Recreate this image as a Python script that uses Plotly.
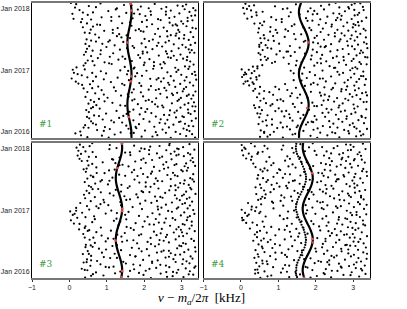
import pandas as pd
import plotly.graph_objects as go
from plotly.subplots import make_subplots

# time is stored as days since 2016-01-01, frequency offset in kHz
curve_t = [-35, 0, 31, 60, 91, 121, 152, 182, 213, 244, 274, 305, 335, 366,
           397, 425, 456, 486, 517, 547, 578, 609, 639, 670, 700, 731, 766]
curve1_x = [1.658, 1.657, 1.640, 1.616, 1.587, 1.563, 1.551, 1.553, 1.569, 1.596, 1.624, 1.647, 1.659, 1.656,
            1.639, 1.616, 1.587, 1.563, 1.551, 1.553, 1.569, 1.596, 1.624, 1.647, 1.659, 1.656, 1.636]
curve2_x = [1.554, 1.558, 1.597, 1.655, 1.723, 1.778, 1.808, 1.803, 1.764, 1.702, 1.636, 1.580, 1.552, 1.558,
            1.599, 1.655, 1.723, 1.778, 1.808, 1.803, 1.764, 1.702, 1.636, 1.580, 1.552, 1.558, 1.606]
curve3_x = [1.386, 1.409, 1.405, 1.380, 1.340, 1.297, 1.260, 1.241, 1.245, 1.271, 1.311, 1.355, 1.391, 1.409,
            1.404, 1.380, 1.340, 1.297, 1.260, 1.241, 1.245, 1.271, 1.311, 1.355, 1.391, 1.409, 1.402]
curve4_x = [1.689, 1.652, 1.659, 1.697, 1.761, 1.830, 1.888, 1.918, 1.912, 1.870, 1.808, 1.737, 1.681, 1.652,
            1.660, 1.697, 1.761, 1.830, 1.888, 1.918, 1.912, 1.870, 1.808, 1.737, 1.681, 1.652, 1.663]

# red marks on the curves
red1_t = [88, 300, 330, 531, 720, 760]
red1_x = [1.59, 1.644, 1.658, 1.552, 1.658, 1.638]
red2_t = [142, 531]
red2_x = [1.77, 1.806]
red3_t = [-30, 5, 186, 360, 375, 615, 760]
red3_x = [1.39, 1.409, 1.241, 1.408, 1.409, 1.275, 1.403]
red4_t = [-35, 175, 195, 586]
red4_x = [1.689, 1.915, 1.915, 1.905]

p1_t = [-35, -31, -28, -24, -22, -19, -15, -12, -9, -7, -5, -33,
        -3, 0, 2, 5, 8, 11, 14, 17, 20, 22, 25, 27,
        29, 31, 34, 37, 40, 43, 46, 48, 51, 54, 57, 59,
        61, 63, 66, 69, 72, 74, 77, 80, 83, 86, 89, 91,
        93, 95, 98, 101, 104, 106, 109, 112, 115, 118, 120, 123,
        125, 128, 130, 133, 136, 139, 141, 144, 147, 150, 152, 155,
        157, 159, 162, 165, 168, 170, 173, 176, 179, 182, 184, 187,
        189, 192, 194, 197, 200, 203, 205, 208, 211, 214, 216, 219,
        221, 223, 226, 229, 232, 235, 237, 240, 243, 246, 248, 251,
        253, 255, 258, 261, 264, 267, 269, 272, 275, 278, 280, 283,
        285, 287, 290, 293, 296, 299, 301, 304, 307, 310, 312, 315,
        317, 319, 322, 325, 328, 331, 333, 336, 339, 342, 344, 347,
        349, 351, 354, 357, 360, 363, 365, 368, 371, 374, 376, 379,
        381, 383, 386, 389, 392, 395, 397, 400, 403, 406, 408, 411,
        413, 415, 418, 421, 424, 427, 429, 432, 435, 438, 440, 443,
        445, 447, 450, 453, 456, 459, 461, 464, 467, 470, 472, 475,
        477, 479, 482, 485, 488, 491, 493, 496, 499, 502, 504, 507,
        509, 511, 514, 517, 520, 523, 525, 528, 531, 534, 536, 539,
        541, 543, 546, 549, 552, 555, 557, 560, 563, 566, 568, 571,
        573, 575, 578, 581, 584, 587, 589, 592, 595, 598, 600, 603,
        605, 607, 610, 613, 616, 619, 621, 624, 627, 630, 632, 635,
        637, 639, 642, 645, 648, 651, 653, 656, 659, 662, 664, 667,
        669, 671, 674, 677, 680, 683, 685, 688, 691, 694, 696, 699,
        701, 703, 706, 709, 712, 715, 717, 720, 723, 726, 728, 731,
        733, 735, 738, 741, 744, 747, 750, 753, 756, 759, 762, 765,
        -34, -27, -20, -13, -6, -1, 6, 12, 19, 26, 30, 36, 44, 50, 56,
        62, 68, 75, 81, 88, 94, 100, 107, 113, 119, 126, 132, 140, 146, 151,
        158, 164, 171, 178, 185, 190, 196, 202, 209, 217, 222, 228, 234, 241, 249,
        254, 260, 266, 273, 279, 286, 292, 298, 305, 311, 318, 324, 330, 337, 343,
        350, 356, 362, 369, 375, 382, 388, 394, 401, 407, 414, 420, 426, 433, 439,
        446, 452, 458, 465, 471, 478, 484, 490, 497, 503, 510, 516, 522, 529, 535,
        542, 548, 554, 561, 567, 574, 580, 586, 593, 599, 606, 612, 618, 625, 631,
        638, 644, 650, 657, 663, 670, 676, 682, 689, 695, 702, 708, 714, 721, 727,
        734, 740, 746, 752, 758]
p1_x = [2.71, 0.48, 1.93, 3.12, 0.87, 2.35, 1.21, 2.96, 0.16, 1.64, 2.58, 3.36,
        1.37, 2.84, 0.29, 3.21, 2.02, 0.74, 2.49, 1.08, 3.05, 1.79, 0.51, 2.66,
        0.95, 2.27, 3.31, 1.52, 0.42, 2.78, 1.86, 3.09, 0.63, 2.41, 1.19, 2.93,
        2.14, 0.58, 3.27, 1.71, 2.62, 0.89, 1.98, 3.38, 1.33, 2.85, 0.47, 2.31,
        3.02, 1.44, 0.66, 2.53, 1.88, 3.24, 0.98, 2.19, 2.81, 0.52, 1.61, 3.35,
        1.26, 2.69, 0.45, 3.17, 2.08, 0.81, 1.92, 2.97, 0.63, 2.36, 3.29, 1.49,
        2.48, 0.72, 3.08, 1.83, 0.51, 2.74, 1.15, 3.33, 2.21, 0.94, 2.89, 1.68,
        0.57, 2.93, 1.74, 3.26, 2.32, 1.02, 2.61, 0.43, 1.97, 3.14, 1.38, 2.77,
        3.19, 1.56, 2.43, 0.69, 2.88, 1.91, 0.48, 3.37, 1.24, 2.59, 0.86, 2.12,
        1.72, 3.06, 0.38, 2.54, 1.19, 2.83, 0.77, 2.18, 3.31, 1.47, 2.67, 0.55,
        2.96, 0.24, 1.87, 3.22, 1.11, 2.45, 0.63, 2.79, 1.59, 3.39, 0.92, 2.16,
        0.06, 2.38, 1.29, 3.13, 0.71, 2.71, 1.94, 0.33, 2.99, 1.54, 3.28, 0.98,
        1.81, 0.12, 2.62, 3.35, 0.84, 2.06, 1.36, 2.91, 0.41, 3.18, 1.72, 2.47,
        2.83, 0.19, 1.48, 3.09, 2.26, 0.67, 1.99, 3.32, 1.13, 2.55, 0.43, 2.01,
        0.94, 2.52, 3.23, 1.67, 0.49, 2.87, 1.31, 2.14, 3.04, 0.76, 1.89, 2.64,
        3.15, 1.42, 0.58, 2.39, 1.84, 2.97, 0.83, 2.61, 1.17, 3.34, 2.08, 0.44,
        1.96, 2.73, 0.62, 3.27, 1.35, 2.22, 0.47, 2.92, 1.73, 3.11, 0.99, 2.48,
        0.53, 2.34, 1.21, 3.02, 2.79, 0.88, 1.93, 3.36, 2.57, 1.44, 0.71, 2.13,
        2.66, 1.08, 3.19, 0.46, 2.01, 2.93, 1.62, 0.79, 3.31, 2.42, 1.27, 2.84,
        1.53, 3.07, 0.69, 2.29, 2.86, 1.16, 0.41, 3.24, 1.98, 2.61, 0.93, 1.77,
        2.91, 0.57, 1.86, 3.38, 1.29, 2.52, 0.36, 2.07, 3.13, 1.66, 2.76, 0.82,
        0.74, 2.21, 3.04, 1.41, 2.68, 0.31, 1.94, 2.99, 1.12, 3.29, 2.44, 0.58,
        2.37, 0.11, 1.69, 3.16, 0.86, 2.81, 1.33, 2.03, 3.36, 0.49, 2.58, 1.88,
        0.08, 2.94, 1.52, 0.63, 3.21, 2.17, 1.04, 2.71, 0.27, 1.83, 3.08, 2.46,
        1.27, 3.31, 0.15, 2.59, 1.91, 0.52, 2.89, 1.46, 3.12, 2.28, 0.83, 0.04,
        1.05, 2.22, 0.31, 3.28, 1.72, 2.31, 0.92, 3.14, 1.58, 0.38, 1.77, 3.19, 0.71, 2.56, 1.41,
        2.97, 1.12, 2.44, 0.53, 3.06, 0.79, 2.67, 1.53, 3.18, 2.03, 2.87, 1.71, 0.58, 2.51, 3.37,
        1.36, 2.29, 3.18, 0.66, 2.04, 2.12, 0.79, 2.98, 1.58, 3.31, 0.92, 2.74, 1.67, 3.03, 2.31,
        2.39, 0.61, 3.12, 1.92, 0.34, 1.41, 2.64, 0.17, 3.08, 2.33, 2.52, 0.48, 1.76, 3.37, 0.22,
        0.61, 2.86, 1.57, 0.09, 2.24, 1.74, 3.21, 0.38, 2.43, 1.06, 2.26, 0.62, 3.14, 1.49, 2.71,
        1.08, 2.79, 0.39, 1.96, 3.22, 2.58, 0.84, 3.19, 1.54, 2.04, 1.69, 3.24, 0.43, 2.38, 1.04,
        0.58, 2.23, 3.06, 1.39, 2.62, 2.71, 1.33, 0.54, 2.94, 1.91, 1.16, 2.37, 3.29, 0.63, 2.88,
        2.84, 0.47, 1.62, 3.16, 2.07, 0.34, 2.67, 1.12, 3.26, 2.18, 1.73, 0.36, 2.58, 3.37, 1.24,
        2.12, 0.71, 3.03, 1.66, 0.18]

p2_t = [-34, -32, -29, -26, -23, -20, -17, -14, -11, -9, -6, -4,
        -2, 1, 3, 6, 9, 12, 15, 18, 21, 23, 26, 28,
        30, 32, 35, 38, 41, 44, 47, 49, 52, 55, 58, 60,
        62, 64, 67, 70, 73, 75, 78, 81, 84, 87, 90, 92,
        94, 96, 99, 102, 105, 107, 110, 113, 116, 119, 121, 124,
        126, 129, 131, 134, 137, 140, 142, 145, 148, 151, 153, 156,
        158, 160, 163, 166, 169, 171, 174, 177, 180, 183, 185, 188,
        190, 193, 195, 198, 201, 204, 206, 209, 212, 215, 217, 220,
        222, 224, 227, 230, 233, 236, 238, 241, 244, 247, 249, 252,
        254, 256, 259, 262, 265, 268, 270, 273, 276, 279, 281, 284,
        286, 288, 291, 294, 297, 300, 302, 305, 308, 311, 313, 316,
        318, 320, 323, 326, 329, 332, 334, 337, 340, 343, 345, 348,
        350, 352, 355, 358, 361, 364, 366, 369, 372, 375, 377, 380,
        382, 384, 387, 390, 393, 396, 398, 401, 404, 407, 409, 412,
        414, 416, 419, 422, 425, 428, 430, 433, 436, 439, 441, 444,
        446, 448, 451, 454, 457, 460, 462, 465, 468, 471, 473, 476,
        478, 480, 483, 486, 489, 492, 494, 497, 500, 503, 505, 508,
        510, 512, 515, 518, 521, 524, 526, 529, 532, 535, 537, 540,
        542, 544, 547, 550, 553, 556, 558, 561, 564, 567, 569, 572,
        574, 576, 579, 582, 585, 588, 590, 593, 596, 599, 601, 604,
        606, 608, 611, 614, 617, 620, 622, 625, 628, 631, 633, 636,
        638, 640, 643, 646, 649, 652, 654, 657, 660, 663, 665, 668,
        670, 672, 675, 678, 681, 684, 686, 689, 692, 695, 697, 700,
        702, 704, 707, 710, 713, 716, 718, 721, 724, 727, 729, 732,
        734, 736, 739, 742, 745, 748, 751, 754, 757, 760, 763, 766,
        -35, -28, -21, -15, -7, 0, 5, 13, 20, 27, 29, 37, 43, 51, 57,
        61, 69, 76, 83, 89, 93, 101, 108, 115, 122, 125, 133, 139, 147, 154,
        157, 165, 172, 179, 186, 189, 197, 203, 211, 218, 221, 229, 235, 243, 250,
        253, 261, 267, 275, 282, 285, 293, 299, 307, 314, 317, 325, 331, 339, 346,
        349, 357, 363, 371, 378, 381, 389, 395, 403, 410, 413, 421, 427, 435, 442,
        445, 453, 459, 467, 474, 477, 485, 491, 499, 506, 509, 517, 523, 531, 538,
        541, 549, 555, 563, 570, 573, 581, 587, 595, 602, 605, 613, 619, 627, 634,
        637, 645, 651, 659, 666, 669, 677, 683, 691, 698, 701, 709, 715, 723, 730,
        733, 741, 747, 755, 762]
p2_x = [1.12, 2.63, 0.51, 3.08, 1.86, 2.31, 0.78, 3.27, 1.45, 2.89, 0.62, 2.12,
        2.44, 0.88, 3.18, 1.67, 0.53, 2.76, 1.31, 3.37, 2.05, 0.97, 2.58, 1.49,
        3.03, 1.23, 2.19, 0.69, 2.91, 1.74, 0.47, 2.47, 3.29, 1.06, 1.93, 2.71,
        0.58, 2.36, 1.38, 3.14, 2.02, 0.83, 2.82, 1.59, 3.33, 0.49, 2.25, 1.16,
        1.97, 3.22, 0.71, 2.54, 1.29, 2.95, 0.44, 2.18, 3.06, 1.53, 2.67, 0.92,
        2.78, 0.56, 1.82, 3.35, 2.29, 1.01, 0.38, 2.61, 1.44, 3.12, 2.03, 0.79,
        0.35, 2.16, 3.01, 1.39, 2.72, 0.67, 1.91, 3.28, 2.49, 1.13, 0.52, 2.87,
        2.33, 1.06, 3.19, 0.61, 2.57, 1.78, 0.43, 2.98, 1.32, 2.14, 3.37, 0.86,
        1.58, 2.91, 0.49, 3.24, 2.11, 0.76, 1.87, 2.68, 0.33, 3.05, 1.24, 2.42,
        2.69, 0.38, 3.15, 1.47, 2.23, 0.92, 2.84, 1.71, 0.22, 3.31, 2.05, 1.18,
        0.07, 2.52, 1.94, 0.31, 3.09, 2.27, 0.18, 1.62, 2.86, 0.42, 3.34, 2.11,
        0.26, 1.76, 2.94, 0.03, 2.41, 3.21, 0.49, 1.98, 2.63, 0.14, 3.03, 1.41,
        2.73, 0.11, 1.84, 3.27, 0.36, 2.18, 2.92, 0.21, 1.56, 3.11, 0.44, 2.49,
        1.69, 3.06, 0.32, 2.37, 1.96, 0.57, 2.81, 3.36, 1.28, 2.14, 0.83, 2.62,
        3.17, 0.91, 2.28, 1.49, 2.75, 0.53, 1.87, 3.01, 0.72, 2.46, 1.14, 3.32,
        0.64, 2.56, 1.33, 3.09, 2.17, 0.95, 2.88, 1.71, 0.47, 3.26, 2.03, 1.22,
        2.39, 1.04, 3.21, 0.58, 1.92, 2.72, 0.81, 3.38, 1.57, 2.24, 0.49, 2.97,
        1.31, 2.86, 0.66, 3.13, 2.41, 1.02, 2.06, 0.54, 3.29, 1.68, 2.63, 0.88,
        3.04, 0.73, 2.22, 1.46, 2.93, 0.52, 1.97, 3.34, 1.17, 2.51, 0.86, 2.77,
        0.61, 2.34, 1.61, 3.19, 2.69, 0.97, 0.46, 2.13, 3.07, 1.26, 2.87, 1.88,
        2.58, 1.19, 3.28, 0.48, 1.83, 2.99, 0.79, 2.42, 1.36, 3.15, 0.57, 2.08,
        1.43, 3.01, 0.36, 2.27, 2.84, 1.09, 0.62, 3.23, 1.91, 2.54, 0.94, 2.12,
        2.96, 0.17, 1.74, 3.35, 0.81, 2.31, 1.28, 2.69, 0.42, 3.12, 1.57, 2.04,
        0.09, 2.47, 3.16, 1.33, 0.58, 2.78, 1.96, 0.27, 3.03, 2.22, 1.12, 2.89,
        1.86, 0.06, 2.63, 3.26, 0.91, 2.14, 0.35, 2.96, 1.47, 0.12, 3.19, 2.53,
        2.04, 0.71, 3.21, 1.38, 2.52, 0.62, 2.87, 1.94, 3.09, 1.12, 2.38, 1.52, 0.83, 2.99, 1.79,
        1.89, 0.67, 2.61, 1.31, 3.23, 2.83, 1.67, 0.52, 2.34, 1.09, 1.21, 2.42, 3.03, 0.49, 1.96,
        2.63, 0.84, 1.62, 3.36, 2.21, 0.97, 2.79, 1.51, 2.36, 3.09, 2.24, 1.36, 3.34, 0.62, 2.81,
        1.02, 2.46, 0.51, 3.03, 1.87, 0.34, 2.77, 0.12, 1.41, 3.16, 2.19, 0.41, 3.27, 0.08, 1.64,
        0.29, 2.58, 1.33, 0.02, 2.98, 2.52, 0.44, 1.47, 3.21, 2.04, 1.62, 2.96, 0.68, 2.13, 3.38,
        2.74, 1.89, 0.52, 3.18, 1.44, 1.26, 2.58, 3.04, 0.71, 2.13, 2.27, 0.49, 3.36, 1.93, 2.84,
        1.72, 2.66, 0.63, 3.11, 2.03, 2.96, 1.42, 2.51, 0.78, 3.33, 0.93, 2.19, 1.67, 2.74, 3.06,
        2.43, 0.51, 3.13, 1.78, 2.67, 1.09, 2.58, 0.29, 3.04, 1.92, 2.63, 0.41, 1.79, 3.28, 0.16,
        1.24, 2.87, 0.22, 2.36, 3.04]

p3_t = [-36, -33, -30, -27, -25, -21, -18, -16, -13, -10, -8, -5,
        -3, -1, 2, 4, 7, 10, 13, 16, 19, 21, 24, 27,
        28, 31, 33, 36, 39, 42, 45, 47, 50, 53, 56, 59,
        60, 63, 65, 68, 71, 74, 76, 79, 82, 85, 88, 91,
        92, 95, 97, 100, 103, 106, 108, 111, 114, 117, 120, 122,
        124, 127, 129, 132, 135, 138, 140, 143, 146, 149, 152, 154,
        156, 159, 161, 164, 167, 170, 172, 175, 178, 181, 184, 186,
        188, 191, 193, 196, 199, 202, 204, 207, 210, 213, 216, 218,
        220, 223, 225, 228, 231, 234, 236, 239, 242, 245, 248, 250,
        252, 255, 257, 260, 263, 266, 268, 271, 274, 277, 280, 282,
        284, 287, 289, 292, 295, 298, 300, 303, 306, 309, 312, 314,
        316, 319, 321, 324, 327, 330, 332, 335, 338, 341, 344, 346,
        348, 351, 353, 356, 359, 362, 364, 367, 370, 373, 376, 378,
        380, 383, 385, 388, 391, 394, 396, 399, 402, 405, 408, 410,
        412, 415, 417, 420, 423, 426, 428, 431, 434, 437, 440, 442,
        444, 447, 449, 452, 455, 458, 460, 463, 466, 469, 472, 474,
        476, 479, 481, 484, 487, 490, 492, 495, 498, 501, 504, 506,
        508, 511, 513, 516, 519, 522, 524, 527, 530, 533, 536, 538,
        540, 543, 545, 548, 551, 554, 556, 559, 562, 565, 568, 570,
        572, 575, 577, 580, 583, 586, 588, 591, 594, 597, 600, 602,
        604, 607, 609, 612, 615, 618, 620, 623, 626, 629, 632, 634,
        636, 639, 641, 644, 647, 650, 652, 655, 658, 661, 664, 666,
        668, 671, 673, 676, 679, 682, 684, 687, 690, 693, 696, 698,
        700, 703, 705, 708, 711, 714, 716, 719, 722, 725, 728, 730,
        732, 735, 737, 740, 743, 746, 749, 752, 755, 758, 761, 764,
        -34, -29, -23, -14, -6, 0, 6, 12, 18, 25, 30, 38, 44, 51, 58,
        62, 69, 75, 83, 90, 93, 101, 107, 115, 121, 125, 133, 139, 147, 153,
        157, 165, 171, 179, 185, 189, 197, 203, 211, 217, 221, 229, 235, 243, 249,
        253, 261, 267, 275, 281, 285, 293, 299, 307, 313, 317, 325, 331, 339, 345,
        349, 357, 363, 371, 377, 381, 389, 395, 403, 409, 413, 421, 427, 435, 441,
        445, 453, 459, 467, 473, 477, 485, 491, 499, 505, 509, 517, 523, 531, 537,
        541, 549, 555, 563, 569, 573, 581, 587, 595, 601, 605, 613, 619, 627, 633,
        637, 645, 651, 659, 665, 669, 677, 683, 691, 697, 701, 709, 715, 723, 729,
        733, 741, 747, 753, 762]
p3_x = [2.18, 0.42, 3.05, 1.57, 2.76, 0.91, 1.98, 3.31, 0.63, 2.44, 1.22, 2.87,
        0.71, 2.59, 1.36, 3.22, 2.04, 0.48, 2.91, 1.73, 0.33, 3.11, 2.32, 1.06,
        2.67, 1.18, 3.37, 0.56, 1.89, 2.43, 0.83, 3.02, 1.51, 2.21, 0.38, 2.84,
        1.44, 3.13, 0.74, 2.36, 1.97, 0.47, 2.78, 3.29, 1.09, 2.57, 0.92, 1.76,
        3.24, 0.58, 2.13, 1.62, 2.96, 0.36, 1.21, 2.71, 0.87, 3.07, 2.46, 1.93,
        0.49, 2.52, 1.38, 3.18, 2.07, 0.79, 2.88, 1.67, 3.36, 0.62, 2.29, 1.15,
        2.94, 1.27, 0.44, 2.39, 3.11, 1.81, 0.68, 2.66, 2.09, 0.97, 3.33, 1.54,
        1.71, 0.54, 2.84, 3.26, 1.03, 2.17, 0.41, 2.58, 1.39, 3.04, 0.86, 2.33,
        2.61, 1.92, 0.37, 3.14, 1.48, 2.79, 0.72, 2.26, 3.35, 1.11, 0.53, 2.98,
        0.26, 2.47, 3.21, 1.64, 0.84, 2.92, 1.96, 0.43, 2.69, 1.31, 3.08, 2.14,
        3.03, 0.12, 1.77, 2.54, 0.61, 3.27, 2.01, 1.19, 0.04, 2.83, 1.52, 2.31,
        1.26, 2.76, 0.21, 3.16, 2.09, 0.66, 1.86, 2.98, 0.09, 2.41, 3.34, 0.97,
        2.22, 0.34, 3.07, 1.58, 0.02, 2.64, 1.12, 3.31, 0.53, 1.94, 2.87, 0.78,
        0.18, 2.91, 1.69, 2.36, 0.47, 3.22, 1.04, 2.58, 0.83, 1.89, 3.09, 2.19,
        2.74, 1.36, 3.28, 0.57, 2.03, 2.95, 0.91, 1.62, 3.14, 0.42, 2.49, 1.83,
        0.68, 2.29, 1.47, 3.01, 2.82, 0.39, 1.79, 3.37, 1.08, 2.56, 0.84, 2.14,
        3.12, 1.93, 0.46, 2.67, 1.24, 3.26, 0.77, 2.38, 1.56, 2.91, 0.58, 2.04,
        1.61, 0.52, 2.83, 3.19, 1.03, 2.27, 0.69, 2.96, 1.87, 0.41, 3.33, 2.48,
        2.36, 3.08, 0.87, 1.74, 2.71, 0.48, 3.23, 1.15, 2.09, 0.63, 2.89, 1.49,
        0.57, 2.62, 1.33, 3.31, 2.18, 0.94, 2.77, 1.67, 0.44, 3.03, 2.41, 1.06,
        2.99, 1.21, 0.38, 2.53, 1.91, 3.17, 0.72, 2.26, 1.58, 3.36, 0.51, 2.81,
        1.42, 2.86, 0.61, 3.12, 2.04, 0.89, 2.59, 1.76, 0.33, 3.24, 2.21, 1.17,
        2.73, 0.27, 1.98, 3.29, 1.34, 0.71, 2.48, 3.06, 0.22, 1.63, 2.92, 2.13,
        0.31, 2.34, 3.17, 1.49, 0.62, 2.81, 1.88, 0.24, 2.59, 3.34, 1.07, 2.01,
        2.88, 1.26, 0.19, 3.04, 2.16, 0.54, 1.73, 2.67, 0.28, 3.21, 1.41, 0.61,
        1.38, 2.61, 0.58, 3.19, 1.86, 2.77, 1.62, 0.41, 2.14, 3.34, 0.97, 2.58, 1.71, 3.21, 0.46,
        2.21, 0.58, 3.04, 1.27, 2.66, 1.77, 2.83, 0.52, 2.34, 3.37, 2.66, 0.98, 1.86, 0.43, 2.99,
        0.57, 2.18, 3.04, 1.41, 2.52, 2.41, 1.18, 0.64, 2.93, 1.86, 1.28, 2.44, 3.01, 0.49, 1.72,
        2.86, 0.41, 1.53, 3.27, 2.26, 0.27, 2.39, 1.36, 3.14, 0.68, 2.58, 0.43, 3.22, 1.49, 0.14,
        1.27, 2.74, 0.18, 2.37, 3.16, 2.46, 0.72, 1.38, 3.02, 0.29, 0.93, 2.34, 1.52, 2.87, 3.21,
        2.43, 1.18, 3.06, 0.53, 1.97, 1.38, 2.84, 0.62, 3.23, 2.17, 2.71, 1.39, 3.06, 2.04, 0.83,
        1.07, 3.29, 2.31, 0.64, 1.82, 2.82, 1.97, 0.73, 2.21, 3.14, 1.73, 0.46, 2.64, 3.08, 1.34,
        2.51, 1.23, 3.31, 0.48, 1.92, 1.14, 2.41, 0.52, 2.86, 3.23, 2.71, 1.62, 0.43, 2.13, 2.92,
        1.92, 0.37, 2.41, 1.08, 2.68]

p4_t = [-35, -32, -30, -27, -24, -21, -18, -15, -12, -10, -7, -4,
        -2, 0, 3, 6, 9, 11, 14, 17, 20, 23, 25, 28,
        30, 33, 35, 38, 41, 43, 46, 49, 52, 54, 57, 60,
        62, 65, 67, 70, 73, 75, 78, 81, 84, 86, 89, 92,
        94, 97, 99, 102, 105, 107, 110, 113, 116, 118, 121, 124,
        126, 129, 131, 134, 137, 139, 142, 145, 148, 150, 153, 156,
        158, 161, 163, 166, 169, 171, 174, 177, 180, 182, 185, 188,
        190, 193, 195, 198, 201, 203, 206, 209, 212, 214, 217, 220,
        222, 225, 227, 230, 233, 235, 238, 241, 244, 246, 249, 252,
        254, 257, 259, 262, 265, 267, 270, 273, 276, 278, 281, 284,
        286, 289, 291, 294, 297, 299, 302, 305, 308, 310, 313, 316,
        318, 321, 323, 326, 329, 331, 334, 337, 340, 342, 345, 348,
        350, 353, 355, 358, 361, 363, 366, 369, 372, 374, 377, 380,
        382, 385, 387, 390, 393, 395, 398, 401, 404, 406, 409, 412,
        414, 417, 419, 422, 425, 427, 430, 433, 436, 438, 441, 444,
        446, 449, 451, 454, 457, 459, 462, 465, 468, 470, 473, 476,
        478, 481, 483, 486, 489, 491, 494, 497, 500, 502, 505, 508,
        510, 513, 515, 518, 521, 523, 526, 529, 532, 534, 537, 540,
        542, 545, 547, 550, 553, 555, 558, 561, 564, 566, 569, 572,
        574, 577, 579, 582, 585, 587, 590, 593, 596, 598, 601, 604,
        606, 609, 611, 614, 617, 619, 622, 625, 628, 630, 633, 636,
        638, 641, 643, 646, 649, 651, 654, 657, 660, 662, 665, 668,
        670, 673, 675, 678, 681, 683, 686, 689, 692, 694, 697, 700,
        702, 705, 707, 710, 713, 715, 718, 721, 724, 726, 729, 732,
        734, 737, 739, 742, 745, 747, 750, 753, 756, 758, 761, 764,
        -33, -26, -19, -13, -5, 1, 7, 13, 19, 26, 31, 37, 44, 50, 58,
        63, 69, 76, 82, 90, 95, 101, 108, 114, 122, 127, 133, 140, 146, 154,
        159, 165, 172, 178, 186, 191, 197, 204, 210, 218, 223, 229, 236, 242, 250,
        255, 261, 268, 274, 282, 287, 293, 300, 306, 314, 319, 325, 332, 338, 346,
        351, 357, 364, 370, 378, 383, 389, 396, 402, 410, 415, 421, 428, 434, 442,
        447, 453, 460, 466, 474, 479, 485, 492, 498, 506, 511, 517, 524, 530, 538,
        543, 549, 556, 562, 570, 575, 581, 588, 594, 602, 607, 613, 620, 626, 634,
        639, 645, 652, 658, 666, 671, 677, 684, 690, 698, 703, 709, 716, 722, 730,
        735, 741, 748, 754, 763,
        -30, -10, 10, 40, 70, 100, 130, 160, 190, 220, 250, 280, 310, 340,
        370, 400, 430, 460, 490, 520, 550, 580, 610, 640, 670, 700, 730, 760,
        -20, 25, 55, 85, 115, 145, 175, 205, 235, 265, 295, 325, 355,
        385, 415, 445, 475, 505, 535, 565, 595, 625, 655, 685, 715, 745]
p4_x = [0.52, 2.41, 1.29, 3.16, 2.03, 0.81, 2.74, 1.58, 3.33, 0.38, 2.21, 1.07,
        2.96, 1.46, 0.63, 2.58, 3.24, 1.91, 0.44, 2.27, 1.12, 3.07, 2.69, 0.86,
        1.73, 0.49, 2.89, 3.31, 1.18, 2.36, 0.71, 2.62, 1.97, 0.41, 3.09, 2.14,
        3.21, 2.07, 0.57, 1.42, 2.78, 0.93, 3.36, 1.86, 0.36, 2.49, 1.23, 2.94,
        0.78, 2.56, 1.64, 3.02, 0.45, 2.22, 2.87, 1.09, 3.27, 0.63, 2.01, 1.51,
        2.31, 0.39, 3.13, 1.27, 2.68, 1.99, 0.84, 3.34, 2.46, 0.56, 1.37, 2.92,
        1.04, 2.83, 0.47, 2.19, 3.28, 1.61, 2.54, 0.72, 3.01, 2.26, 0.33, 1.44,
        2.63, 1.17, 3.19, 0.61, 2.04, 2.91, 0.43, 1.53, 3.37, 2.38, 0.92, 2.76,
        0.37, 2.99, 1.78, 2.43, 0.69, 3.23, 1.31, 2.67, 0.51, 2.12, 3.06, 1.02,
        2.51, 0.24, 3.14, 1.67, 2.86, 0.81, 2.09, 1.23, 3.32, 0.43, 2.71, 1.94,
        1.36, 3.07, 0.14, 2.34, 2.93, 0.58, 1.88, 3.26, 0.07, 2.61, 1.14, 2.18,
        2.79, 0.03, 1.49, 3.18, 0.66, 2.28, 1.04, 2.97, 0.21, 3.35, 1.99, 0.49,
        0.11, 2.46, 3.09, 1.26, 0.38, 2.83, 1.77, 0.02, 2.21, 3.29, 0.87, 2.58,
        1.91, 3.02, 0.29, 2.67, 1.13, 2.31, 3.36, 0.54, 1.48, 2.89, 0.19, 2.12,
        3.13, 0.83, 2.04, 1.37, 2.76, 0.46, 3.28, 1.82, 2.49, 0.64, 1.16, 2.94,
        0.57, 2.38, 3.21, 1.08, 2.62, 1.94, 0.41, 2.86, 1.52, 3.05, 0.79, 2.19,
        2.71, 1.43, 0.62, 3.32, 2.11, 0.88, 2.47, 1.24, 3.04, 0.39, 1.66, 2.91,
        1.21, 3.11, 2.26, 0.51, 2.82, 1.57, 0.96, 3.26, 2.04, 0.68, 2.54, 1.39,
        2.98, 0.72, 1.84, 2.61, 0.44, 3.19, 1.12, 2.33, 0.87, 2.76, 3.37, 1.59,
        0.46, 2.52, 1.31, 3.06, 2.17, 0.97, 2.88, 1.69, 0.58, 3.24, 2.39, 1.05,
        2.24, 1.02, 3.27, 0.63, 2.79, 1.46, 0.39, 2.56, 1.93, 3.13, 0.81, 2.67,
        1.38, 2.92, 0.33, 2.14, 3.31, 1.76, 0.68, 2.43, 1.18, 3.02, 0.27, 2.69,
        3.04, 0.14, 2.36, 1.58, 0.76, 2.87, 1.24, 3.21, 0.06, 2.02, 2.63, 0.44,
        0.21, 2.73, 1.41, 3.17, 0.58, 2.29, 1.97, 0.03, 2.94, 1.09, 3.33, 0.71,
        2.48, 0.09, 1.82, 3.01, 0.37, 2.58, 1.13, 0.02, 2.81, 1.59, 3.26, 0.27,
        1.86, 0.71, 2.93, 2.24, 0.46, 1.23, 2.43, 0.38, 3.21, 1.78, 2.67, 1.29, 3.02, 0.58, 2.31,
        0.69, 2.36, 1.69, 3.14, 0.47, 2.42, 1.18, 3.37, 0.92, 2.69, 1.63, 2.87, 0.58, 2.17, 3.06,
        2.79, 0.91, 1.91, 3.14, 0.54, 0.79, 2.26, 3.04, 1.34, 2.56, 2.83, 1.56, 0.43, 2.34, 1.17,
        1.48, 2.98, 0.62, 2.29, 3.27, 2.57, 0.31, 1.62, 0.04, 2.84, 1.24, 2.62, 0.17, 3.09, 1.74,
        2.93, 0.52, 1.42, 0.28, 2.16, 0.41, 2.54, 1.73, 3.18, 0.86, 2.19, 1.06, 2.64, 0.53, 3.21,
        1.34, 2.89, 0.66, 2.27, 1.89, 3.17, 1.79, 2.29, 0.54, 1.03, 2.42, 0.82, 3.03, 1.28, 2.14,
        1.44, 2.57, 0.59, 3.03, 2.21, 2.74, 1.18, 2.07, 3.36, 0.71, 0.52, 1.84, 2.96, 1.27, 2.38,
        2.27, 0.87, 1.62, 2.81, 3.23, 1.31, 2.71, 0.29, 2.22, 3.12, 2.41, 0.46, 1.71, 2.86, 0.12,
        1.37, 2.17, 0.63, 2.93, 1.92,
        1.50, 1.47, 1.48, 1.49, 1.54, 1.60, 1.67, 1.72, 1.74, 1.72, 1.68, 1.62, 1.56, 1.51,
        1.47, 1.48, 1.52, 1.59, 1.66, 1.71, 1.74, 1.73, 1.69, 1.63, 1.56, 1.50, 1.47, 1.48,
        1.48, 1.48, 1.51, 1.57, 1.63, 1.70, 1.73, 1.73, 1.70, 1.65, 1.59, 1.53, 1.49,
        1.47, 1.50, 1.55, 1.62, 1.69, 1.73, 1.74, 1.71, 1.66, 1.60, 1.53, 1.48, 1.47]

panels = [
    (1, 1, p1_x, p1_t, curve1_x, red1_x, red1_t, "#1"),
    (1, 2, p2_x, p2_t, curve2_x, red2_x, red2_t, "#2"),
    (2, 1, p3_x, p3_t, curve3_x, red3_x, red3_t, "#3"),
    (2, 2, p4_x, p4_t, curve4_x, red4_x, red4_t, "#4"),
]

start = pd.Timestamp("2016-01-01")


def to_dates(days):
    return start + pd.to_timedelta(days, unit="D")


fig = make_subplots(rows=2, cols=2, shared_xaxes=True, shared_yaxes=True,
                    horizontal_spacing=0.015, vertical_spacing=0.018)

for row, col, px, pt, cx, rx, rt, label in panels:
    fig.add_trace(go.Scatter(x=px, y=to_dates(pt), mode="markers",
                             marker=dict(size=2.2, color="black"), hoverinfo="skip"),
                  row=row, col=col)
    fig.add_trace(go.Scatter(x=cx, y=to_dates(curve_t), mode="lines",
                             line=dict(color="black", width=2.2, shape="spline")),
                  row=row, col=col)
    fig.add_trace(go.Scatter(x=rx, y=to_dates(rt), mode="markers",
                             marker=dict(size=2.6, color="#f04848")),
                  row=row, col=col)
    fig.add_annotation(text=label, x=0.03, y=0.05, xref="x domain", yref="y domain",
                       xanchor="left", yanchor="bottom", showarrow=False,
                       font=dict(family="DejaVu Serif", size=9, color="#3a9a3a"),
                       row=row, col=col)

fig.update_xaxes(range=[-1, 3.45], tickvals=[-1, 0, 1, 2, 3], showgrid=False, zeroline=False,
                 showline=True, linecolor="#777", linewidth=2, mirror=True, automargin=False,
                 tickfont=dict(family="Liberation Sans", size=7, color="#222"))
fig.update_xaxes(ticks="outside", ticklen=2, tickcolor="#333", row=2)
fig.update_yaxes(range=["2015-11-26", "2018-02-04"],
                 tickvals=["2016-01-01", "2017-01-01", "2018-01-01"],
                 ticktext=["Jan 2016", "Jan 2017", "Jan 2018"],
                 showgrid=False, zeroline=False, showline=True, linecolor="black",
                 linewidth=1, mirror=True, ticks="", automargin=False,
                 tickfont=dict(family="Liberation Sans", size=7, color="#222"))

fig.add_annotation(text="<i>ν</i> − <i>m</i><sub><i>a</i></sub>/2<i>π</i>  [kHz]",
                   x=0.5, y=-0.035, xref="paper", yref="paper", xanchor="center", yanchor="top",
                   showarrow=False, font=dict(family="Liberation Serif", size=13, color="black"))

fig.update_layout(width=407, height=309, margin=dict(l=32, r=37, t=3, b=31),
                  plot_bgcolor="white", paper_bgcolor="white", showlegend=False)

fig.write_html("out.html", config={"displayModeBar": False},
               post_script="document.body.style.margin = '0';")
